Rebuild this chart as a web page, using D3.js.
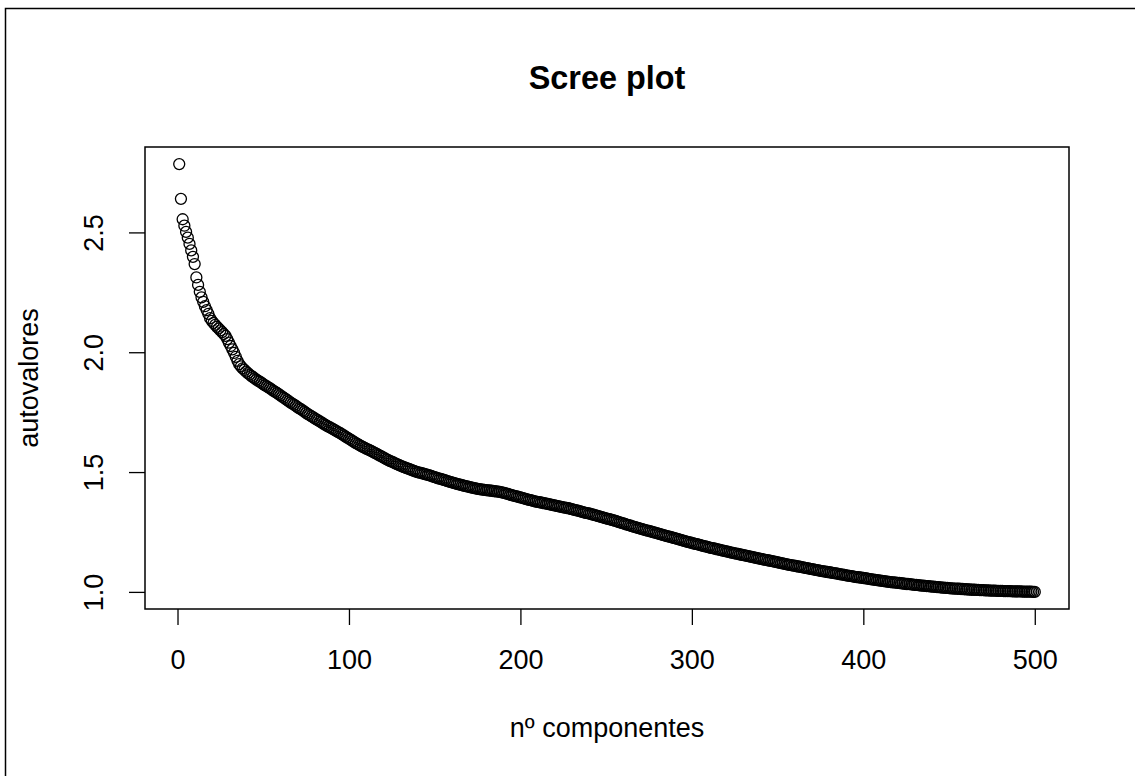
<!DOCTYPE html>
<html>
<head>
<meta charset="utf-8">
<script src="https://cdn.jsdelivr.net/npm/d3@7"></script>
<style>
  html, body { margin: 0; padding: 0; background: #fff; }
  svg { display: block; }
  text { font-family: "Liberation Sans", Arial, sans-serif; fill: #000; }
</style>
</head>
<body>
<svg id="chart" width="1135" height="776"></svg>
<script>
// Eigenvalues of the 500 principal components, in decreasing order
const autovalores = [
  2.785, 2.640, 2.555, 2.528, 2.502, 2.478, 2.452, 2.425, 2.398, 2.368,
  2.312, 2.281, 2.252, 2.229, 2.210, 2.192, 2.176, 2.160, 2.142, 2.131,
  2.122, 2.114, 2.106, 2.099, 2.091, 2.084, 2.076, 2.068, 2.055, 2.040,
  2.026, 2.012, 1.997, 1.981, 1.964, 1.950, 1.941, 1.933, 1.926, 1.919,
  1.913, 1.907, 1.901, 1.896, 1.891, 1.886, 1.881, 1.877, 1.872, 1.867,
  1.862, 1.858, 1.853, 1.849, 1.844, 1.839, 1.835, 1.830, 1.825, 1.820,
  1.815, 1.810, 1.805, 1.800, 1.795, 1.790, 1.785, 1.781, 1.776, 1.771,
  1.766, 1.762, 1.757, 1.752, 1.747, 1.742, 1.738, 1.733, 1.729, 1.724,
  1.720, 1.716, 1.711, 1.707, 1.702, 1.698, 1.694, 1.690, 1.686, 1.682,
  1.678, 1.674, 1.670, 1.666, 1.662, 1.657, 1.653, 1.648, 1.644, 1.639,
  1.635, 1.630, 1.626, 1.621, 1.617, 1.613, 1.609, 1.605, 1.602, 1.598,
  1.595, 1.591, 1.588, 1.584, 1.580, 1.577, 1.573, 1.569, 1.565, 1.561,
  1.557, 1.553, 1.550, 1.546, 1.543, 1.540, 1.536, 1.533, 1.530, 1.527,
  1.524, 1.521, 1.518, 1.515, 1.513, 1.510, 1.507, 1.505, 1.502, 1.500,
  1.498, 1.496, 1.494, 1.492, 1.490, 1.488, 1.486, 1.484, 1.481, 1.479,
  1.477, 1.474, 1.472, 1.470, 1.468, 1.466, 1.463, 1.461, 1.459, 1.457,
  1.455, 1.453, 1.451, 1.449, 1.447, 1.445, 1.443, 1.441, 1.440, 1.438,
  1.436, 1.435, 1.433, 1.432, 1.430, 1.429, 1.428, 1.427, 1.426, 1.425,
  1.424, 1.423, 1.422, 1.421, 1.420, 1.419, 1.418, 1.417, 1.415, 1.414,
  1.412, 1.410, 1.408, 1.406, 1.404, 1.402, 1.400, 1.398, 1.396, 1.394,
  1.392, 1.390, 1.388, 1.386, 1.384, 1.383, 1.381, 1.379, 1.377, 1.376,
  1.374, 1.373, 1.371, 1.370, 1.368, 1.367, 1.365, 1.364, 1.362, 1.361,
  1.359, 1.358, 1.356, 1.355, 1.353, 1.352, 1.350, 1.349, 1.347, 1.345,
  1.343, 1.341, 1.340, 1.338, 1.336, 1.334, 1.332, 1.330, 1.329, 1.327,
  1.325, 1.323, 1.321, 1.319, 1.317, 1.315, 1.313, 1.311, 1.309, 1.307,
  1.305, 1.303, 1.301, 1.299, 1.297, 1.295, 1.292, 1.290, 1.288, 1.286,
  1.284, 1.281, 1.279, 1.277, 1.274, 1.272, 1.270, 1.268, 1.266, 1.264,
  1.262, 1.260, 1.258, 1.256, 1.254, 1.252, 1.250, 1.248, 1.246, 1.244,
  1.242, 1.240, 1.238, 1.236, 1.234, 1.232, 1.230, 1.228, 1.226, 1.224,
  1.222, 1.220, 1.218, 1.216, 1.214, 1.212, 1.210, 1.208, 1.206, 1.204,
  1.202, 1.200, 1.199, 1.197, 1.195, 1.193, 1.191, 1.190, 1.188, 1.186,
  1.184, 1.183, 1.181, 1.179, 1.177, 1.176, 1.174, 1.172, 1.171, 1.169,
  1.168, 1.166, 1.164, 1.163, 1.161, 1.160, 1.158, 1.156, 1.155, 1.153,
  1.152, 1.150, 1.149, 1.147, 1.146, 1.144, 1.143, 1.141, 1.140, 1.138,
  1.137, 1.135, 1.134, 1.132, 1.131, 1.129, 1.128, 1.126, 1.125, 1.123,
  1.122, 1.120, 1.119, 1.117, 1.116, 1.114, 1.113, 1.112, 1.110, 1.109,
  1.107, 1.106, 1.105, 1.103, 1.102, 1.100, 1.099, 1.098, 1.096, 1.095,
  1.094, 1.092, 1.091, 1.090, 1.088, 1.087, 1.086, 1.084, 1.083, 1.082,
  1.081, 1.079, 1.078, 1.077, 1.076, 1.074, 1.073, 1.072, 1.071, 1.069,
  1.068, 1.067, 1.066, 1.065, 1.063, 1.062, 1.061, 1.060, 1.059, 1.058,
  1.057, 1.056, 1.054, 1.053, 1.052, 1.051, 1.050, 1.049, 1.048, 1.047,
  1.046, 1.045, 1.044, 1.043, 1.042, 1.041, 1.040, 1.040, 1.039, 1.038,
  1.037, 1.036, 1.035, 1.034, 1.033, 1.033, 1.032, 1.031, 1.030, 1.029,
  1.029, 1.028, 1.027, 1.026, 1.026, 1.025, 1.024, 1.024, 1.023, 1.022,
  1.022, 1.021, 1.020, 1.020, 1.019, 1.018, 1.018, 1.017, 1.017, 1.016,
  1.015, 1.015, 1.014, 1.014, 1.013, 1.013, 1.012, 1.012, 1.011, 1.011,
  1.010, 1.010, 1.009, 1.009, 1.009, 1.008, 1.008, 1.007, 1.007, 1.007,
  1.006, 1.006, 1.006, 1.005, 1.005, 1.005, 1.005, 1.004, 1.004, 1.004,
  1.004, 1.003, 1.003, 1.003, 1.003, 1.003, 1.002, 1.002, 1.002, 1.002,
  1.002, 1.002, 1.001, 1.001, 1.001, 1.001, 1.001, 1.001, 1.000, 1.000
];

// Tick values on each axis
const xTicks = [0, 100, 200, 300, 400, 500];
const yTicks = [1.0, 1.5, 2.0, 2.5];

// Text
const titulo = "Scree plot";
const xLabel = "nº componentes";
const yLabel = "autovalores";

// ---- layout ----
const W = 1135, H = 776;
const plot = { left: 145, right: 1069, top: 147, bottom: 609 };
const fontSize = 27;

const svg = d3.select("#chart");

// white background; the device edge shows on the left and top only
svg.append("rect").attr("x", 0).attr("y", 0).attr("width", W).attr("height", H).attr("fill", "#fff");
svg.append("path")
  .attr("d", `M5.5,${H} V8.5 H${W}`)
  .attr("fill", "none").attr("stroke", "#000").attr("stroke-width", 1.5);

// component index 1..n
const puntos = autovalores.map((v, i) => ({ k: i + 1, v }));

// domains padded by 4% on each side (base-graphics style)
const xExt = d3.extent(puntos, d => d.k);
const yExt = d3.extent(puntos, d => d.v);
const xPad = (xExt[1] - xExt[0]) * 0.04;
const yPad = (yExt[1] - yExt[0]) * 0.04;

const x = d3.scaleLinear()
  .domain([xExt[0] - xPad, xExt[1] + xPad])
  .range([plot.left, plot.right]);
const y = d3.scaleLinear()
  .domain([yExt[0] - yPad, yExt[1] + yPad])
  .range([plot.bottom, plot.top]);

// points (open circles)
svg.append("g")
  .selectAll("circle")
  .data(puntos)
  .join("circle")
  .attr("cx", d => x(d.k))
  .attr("cy", d => y(d.v))
  .attr("r", 5.5)
  .attr("fill", "none")
  .attr("stroke", "#000")
  .attr("stroke-width", 1.3);

// x axis
const gx = svg.append("g")
  .attr("transform", `translate(0,${plot.bottom})`)
  .call(d3.axisBottom(x).tickValues(xTicks).tickSize(16).tickPadding(0).tickFormat(d3.format("d")));
gx.select(".domain").remove();
gx.selectAll(".tick line").attr("stroke", "#000").attr("stroke-width", 1.3);
gx.selectAll(".tick text")
  .attr("y", 0).attr("dy", null)
  .attr("transform", "translate(0,60)")
  .style("font-size", fontSize + "px")
  .attr("fill", "#000");

// y axis
const gy = svg.append("g")
  .attr("transform", `translate(${plot.left},0)`)
  .call(d3.axisLeft(y).tickValues(yTicks).tickSize(16).tickPadding(0).tickFormat(d3.format(".1f")));
gy.select(".domain").remove();
gy.selectAll(".tick line").attr("stroke", "#000").attr("stroke-width", 1.3);
gy.selectAll(".tick text")
  .attr("x", 0).attr("dy", null)
  .attr("text-anchor", "middle")
  .attr("transform", "translate(-42,0) rotate(-90)")
  .style("font-size", fontSize + "px")
  .attr("fill", "#000");

// plot box
svg.append("rect")
  .attr("x", plot.left).attr("y", plot.top)
  .attr("width", plot.right - plot.left).attr("height", plot.bottom - plot.top)
  .attr("fill", "none").attr("stroke", "#000").attr("stroke-width", 1.5);

// title
svg.append("text")
  .attr("x", (plot.left + plot.right) / 2).attr("y", 89)
  .attr("text-anchor", "middle")
  .style("font-size", "32.4px").style("font-weight", "bold")
  .text(titulo);

// x label
svg.append("text")
  .attr("x", (plot.left + plot.right) / 2).attr("y", 737)
  .attr("text-anchor", "middle")
  .style("font-size", fontSize + "px")
  .text(xLabel);

// y label
svg.append("text")
  .attr("transform", `translate(38,${(plot.top + plot.bottom) / 2}) rotate(-90)`)
  .attr("text-anchor", "middle")
  .style("font-size", fontSize + "px")
  .text(yLabel);
</script>
</body>
</html>
